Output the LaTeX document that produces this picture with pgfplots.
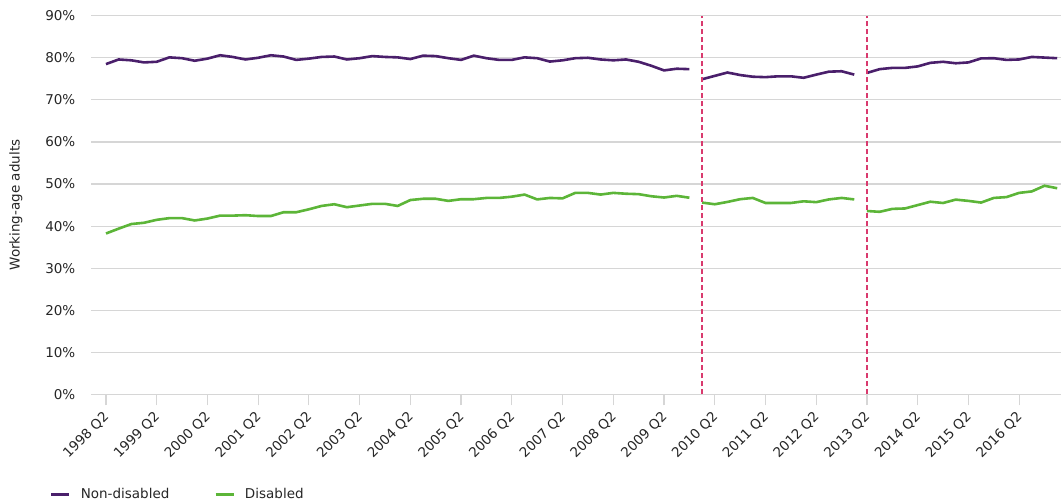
\documentclass[border=0pt]{standalone}
\usepackage{pgfplots}
\pgfplotsset{compat=1.18}
\usepackage{pgfplotstable}
\usepackage{fontspec}
\setmainfont{DejaVu Sans}
\definecolor{ndpurple}{HTML}{4A1F6B}
\definecolor{dgreen}{HTML}{5CB538}
\definecolor{dashpink}{HTML}{D93A6E}
\definecolor{gridgray}{HTML}{D6D6D6}
\definecolor{textgray}{HTML}{262626}

\pgfplotstableread{
x nondis dis
0 78.5 38.25
1 79.6 39.4
2 79.4 40.5
3 78.9 40.8
4 79.05 41.5
5 80.1 41.9
6 79.9 41.9
7 79.3 41.35
8 79.8 41.8
9 80.6 42.5
10 80.2 42.5
11 79.6 42.6
12 80.0 42.4
13 80.6 42.4
14 80.3 43.3
15 79.5 43.3
16 79.8 44.0
17 80.2 44.8
18 80.3 45.2
19 79.6 44.5
20 79.9 44.9
21 80.4 45.3
22 80.2 45.3
23 80.1 44.8
24 79.7 46.2
25 80.5 46.5
26 80.4 46.5
27 79.9 46.0
28 79.5 46.4
29 80.5 46.4
30 79.9 46.7
31 79.5 46.7
32 79.5 47.0
33 80.1 47.5
34 79.9 46.35
35 79.1 46.7
36 79.4 46.6
37 79.9 47.9
38 80.0 47.9
39 79.6 47.5
40 79.4 47.9
41 79.6 47.7
42 79.05 47.6
43 78.1 47.1
44 77.0 46.8
45 77.4 47.2
46 77.3 46.75
46.5 nan nan
47 74.9 45.6
48 75.7 45.2
49 76.5 45.75
50 75.9 46.4
51 75.5 46.7
52 75.4 45.5
53 75.6 45.5
54 75.6 45.5
55 75.25 45.9
56 76.0 45.7
57 76.7 46.35
58 76.8 46.7
59 76.0 46.35
59.5 nan nan
60 76.4 43.6
61 77.3 43.4
62 77.6 44.1
63 77.6 44.2
64 77.95 45.0
65 78.8 45.8
66 79.05 45.5
67 78.7 46.3
68 78.9 46.0
69 79.85 45.6
70 79.9 46.7
71 79.5 46.9
72 79.6 47.9
73 80.2 48.25
74 80.05 49.6
75 79.9 49.0
}\datatable

\begin{document}
\fontsize{13.5bp}{16bp}\selectfont
\begin{tikzpicture}
\begin{axis}[
  scale only axis,
  width=970bp, height=378.8bp,
  xmin=-1.18, xmax=75.3,
  ymin=0, ymax=90,
  axis line style={draw=none},
  ymajorgrids,
  grid style={color=gridgray, line width=1.2bp},
  ytick={0,10,...,90},
  yticklabels={0\%,10\%,20\%,30\%,40\%,50\%,60\%,70\%,80\%,90\%},
  xtick={0,4,...,72},
  xticklabels={1998 Q2,1999 Q2,2000 Q2,2001 Q2,2002 Q2,2003 Q2,2004 Q2,2005 Q2,2006 Q2,2007 Q2,2008 Q2,2009 Q2,2010 Q2,2011 Q2,2012 Q2,2013 Q2,2014 Q2,2015 Q2,2016 Q2},
  xtick pos=lower,
  tick align=outside,
  major tick length=11bp,
  xtick style={color=gridgray, line width=1.2bp},
  ytick style={draw=none},
  tick label style={font=\fontsize{13.5bp}{16bp}\selectfont, text=textgray},
  xticklabel style={xshift=4bp, yshift=-6bp, rotate=45, anchor=east},
  yticklabel style={anchor=east},
  unbounded coords=jump,
  legend columns=2,
  legend cell align=left,
  legend style={at={(rel axis cs:0,0)}, anchor=west, xshift=-44bp, yshift=-100bp,
    draw=none, fill=none, font=\fontsize{13.5bp}{16bp}\selectfont, text=textgray,
    /tikz/every even column/.append style={column sep=43bp}},
  legend image code/.code={\draw[#1] (0bp,0bp) -- (18bp,0bp); \path (26bp,0bp);},
]
\coordinate (sw) at (rel axis cs:0,0);
\coordinate (ne) at (rel axis cs:1,1);
\coordinate (ml) at (rel axis cs:0,0.5);
\addplot[ndpurple, line width=2.6bp] table[x=x, y=nondis] {\datatable};
\addlegendentry{Non-disabled}
\addplot[dgreen, line width=2.6bp] table[x=x, y=dis] {\datatable};
\addlegendentry{Disabled}
\addplot[dashpink, line width=1.5bp, dash pattern=on 5bp off 3bp, forget plot] coordinates {(47,0) (47,90)};
\addplot[dashpink, line width=1.5bp, dash pattern=on 5bp off 3bp, forget plot] coordinates {(60,0) (60,90)};
\end{axis}
\node[rotate=90, text=textgray, font=\fontsize{13.5bp}{16bp}\selectfont] at ([xshift=-75bp]ml) {Working-age adults};
\pgfresetboundingbox
\path[use as bounding box] ([xshift=-91bp,yshift=-107.5bp]sw) rectangle ([yshift=15.7bp]ne);
\end{tikzpicture}
\end{document}
